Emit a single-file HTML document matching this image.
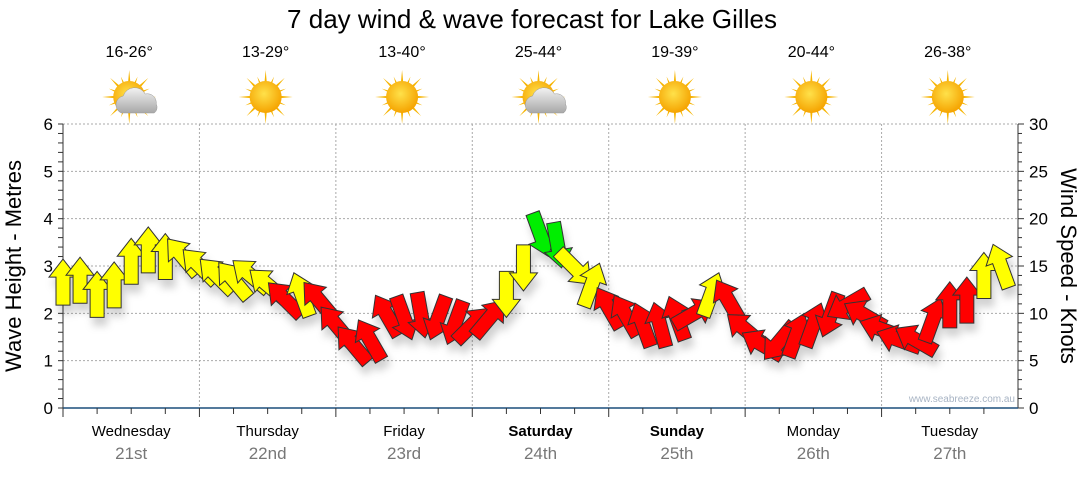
<!DOCTYPE html>
<html><head><meta charset="utf-8"><style>
body{margin:0;background:#fff;width:1080px;height:475px;overflow:hidden;font-family:"Liberation Sans",sans-serif}
svg text{font-family:"Liberation Sans",sans-serif}
</style></head><body>
<svg id="c" width="1080" height="475" xmlns="http://www.w3.org/2000/svg">
<defs>
<filter id="sh" x="-50%" y="-50%" width="200%" height="200%"><feDropShadow dx="3" dy="8" stdDeviation="4" flood-color="#000" flood-opacity="0.18"/></filter>
<radialGradient id="sun" cx="45%" cy="40%" r="60%"><stop offset="0" stop-color="#ffe14a"/><stop offset="1" stop-color="#f5a300"/></radialGradient>
<linearGradient id="cloud" x1="0" y1="0" x2="0" y2="1"><stop offset="0" stop-color="#f2f2f2"/><stop offset="1" stop-color="#a8a8a8"/></linearGradient>
</defs>
<text x="532" y="28" font-size="26" text-anchor="middle" fill="#000">7 day wind &amp; wave forecast for Lake Gilles</text>
<g id="grid"></g><g id="axes"></g><g id="topg"></g><g id="marks" filter="url(#sh)"></g>
<text x="1015" y="402" font-size="10" text-anchor="end" fill="#a8b4c4">www.seabreeze.com.au</text>
<text transform="translate(21,266) rotate(-90)" font-size="22" text-anchor="middle">Wave Height - Metres</text>
<text transform="translate(1061,266) rotate(90)" font-size="22" text-anchor="middle">Wind Speed - Knots</text>
</svg>
<script>
const days=["Wednesday","Thursday","Friday","Saturday","Sunday","Monday","Tuesday"];
const dates=["21st","22nd","23rd","24th","25th","26th","27th"];
const temps=["16-26°","13-29°","13-40°","25-44°","19-39°","20-44°","26-38°"];
const cloudy=[1,0,0,1,0,0,0];
const waveTicks=[0,1,2,3,4,5,6];
const windTicks=[0,5,10,15,20,25,30];
const hours=[0,3,6,9,12,15,18,21,24,27,30,33,36,39,42,45,48,51,54,57,60,63,66,69,72,75,78,81,84,87,90,93,96,99,102,105,108,111,114,117,120,123,126,129,132,135,138,141,144,147,150,153,156,159,162,165];
const speed=[13.3,13.5,12,13,15.5,16.7,16,16,15,14,13.5,14,13,11.5,12,11.4,8.8,6.7,7.2,9.8,9.5,9.8,9.5,9,8.8,9.5,12,14.8,18.3,17.2,14.8,13,10.6,9.8,8.8,8.8,9.5,10,12,11.4,8.3,6.7,7,7.7,8.8,9.8,10.9,9.8,8.3,7.2,7.2,9.3,10.9,11.4,14,15];
const dir=[0,0,0,0,0,0,0,-40,-45,-45,-40,-50,-50,-45,-20,-40,-40,-40,-30,-30,160,170,200,200,45,40,180,180,160,170,135,20,-30,-30,-20,-15,-20,60,20,-30,-50,-60,220,20,20,200,240,-60,-70,-70,-60,20,0,0,0,-20];
const cols=["y","y","y","y","y","y","y","y","y","y","y","y","y","r","y","r","r","r","r","r","r","r","r","r","r","r","y","y","g","g","y","y","r","r","r","r","r","r","y","r","r","r","r","r","r","r","r","r","r","r","r","r","r","r","y","y"];
const L=63,R=1018,T=124,B=408,NS="http://www.w3.org/2000/svg";
const dayW=(R-L)/7;
const xH=h=>L+h*dayW/24;
const yW=v=>B-v*(B-T)/6;
const yK=k=>B-k*(B-T)/30;
function el(t,a,p){const e=document.createElementNS(NS,t);for(const k in a)e.setAttribute(k,a[k]);p.appendChild(e);return e;}
const gridG=document.getElementById('grid'),axesG=document.getElementById('axes'),topG=document.getElementById('topg'),marksG=document.getElementById('marks');
waveTicks.forEach(v=>{if(v>0){const g=el('line',{x1:L,x2:R,y1:yW(v),y2:yW(v),stroke:'#aaa','stroke-dasharray':'2,2'},gridG);

}
const t=el('text',{x:L-10,y:yW(v)+6,'font-size':17,'text-anchor':'end'},axesG);t.textContent=v;

});
for(let v=0;v<=6.001;v+=0.2){el('line',{x1:L-5,x2:L,y1:yW(v),y2:yW(v),stroke:'#333'},axesG);}
windTicks.forEach(k=>{const t=el('text',{x:R+11,y:yK(k)+6,'font-size':17},axesG);t.textContent=k;

});
for(let k=0;k<=30;k++){el('line',{x1:R,x2:R+(k%5?4:6),y1:yK(k),y2:yK(k),stroke:'#333'},axesG);}
el('line',{x1:L,x2:L,y1:T,y2:B,stroke:'#333'},axesG);
el('line',{x1:R,x2:R,y1:T,y2:B,stroke:'#333'},axesG);
el('line',{x1:L,x2:R,y1:B,y2:B,stroke:'#1c4f7c','stroke-width':1.5},axesG);
for(let i=0;i<28;i++){const x=L+i*dayW/4;el('line',{x1:x,x2:x,y1:B,y2:B+(i%4?6:9),stroke:'#333'},axesG);}
days.forEach((d,i)=>{const cx=L+(i+0.5)*dayW;
if(i>0){const g=el('line',{x1:L+i*dayW,x2:L+i*dayW,y1:T,y2:B,stroke:'#aaa','stroke-dasharray':'2,2'},gridG);

}
const t=el('text',{x:cx,y:436,'font-size':15,'text-anchor':'middle','font-weight':(i==3||i==4)?'bold':'normal'},axesG);t.textContent=d;


const t2=el('text',{x:cx,y:459,'font-size':17,'text-anchor':'middle',fill:'#777'},axesG);t2.textContent=dates[i];


const t3=el('text',{x:cx-2,y:57,'font-size':16,'text-anchor':'middle'},topG);t3.textContent=temps[i];


const g=el('g',{transform:`translate(${cx-2},97)`},topG);


for(let a=0;a<16;a++){const r=a%2?22:27;el('polygon',{points:`-2.5,0 2.5,0 0,-${r}`,fill:'#f6b400',transform:`rotate(${a*22.5})`},g);}
el('circle',{r:16,fill:'url(#sun)'},g);
if(cloudy[i]){el('path',{d:'M-8,16 a9,9 0 0 1 2,-17 a12,12 0 0 1 22,-2 a9,9 0 0 1 11,10 a7,7 0 0 1 -2,9 z',fill:'url(#cloud)',stroke:'#999','stroke-width':0.5},g);}
});
const fill={y:'#ffff00',r:'#ff0000',g:'#00ee00'};
hours.forEach((h,i)=>{const x=xH(h),y=yK(speed[i]);
const p=el('polygon',{points:'-7,23 7,23 7,-5 14,-5 0,-23 -14,-5 -7,-5',fill:fill[cols[i]],stroke:'#333','stroke-width':1,transform:`translate(${x},${y}) rotate(${dir[i]})`},marksG);

});
</script>
</body></html>
